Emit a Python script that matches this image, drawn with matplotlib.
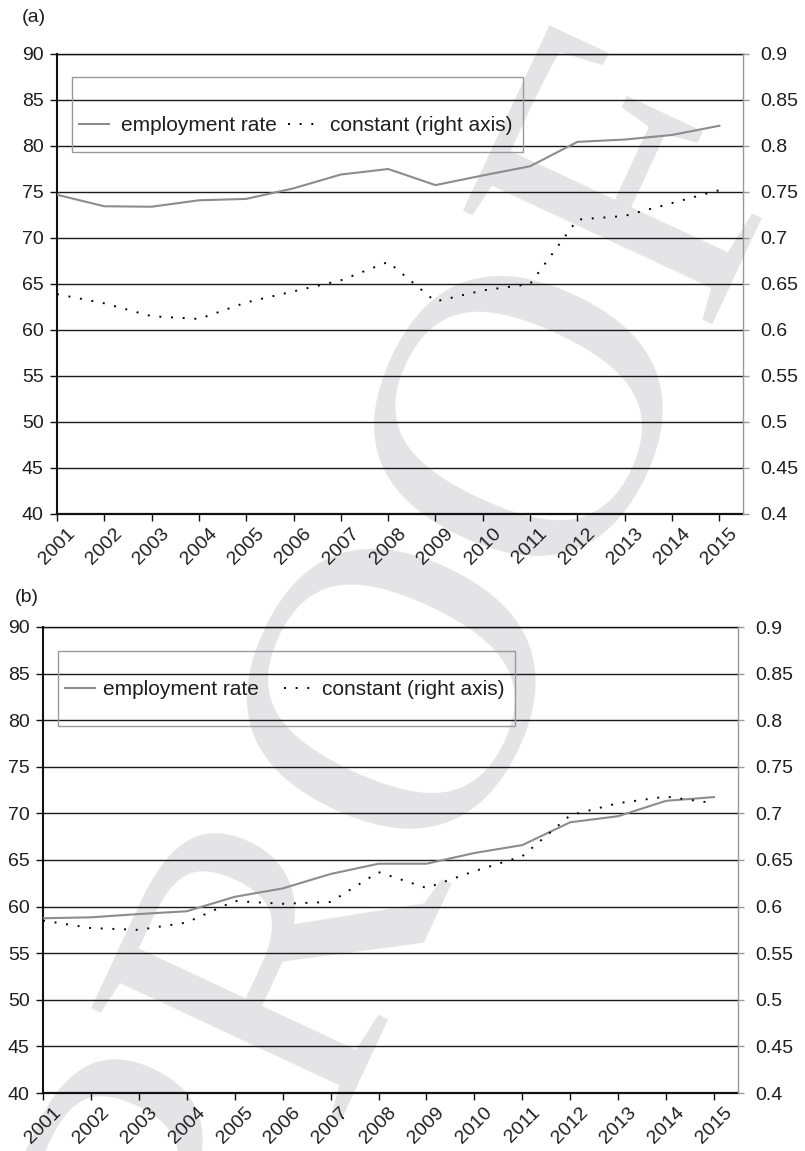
import matplotlib
matplotlib.use('Agg')
import matplotlib.pyplot as plt
import matplotlib.transforms as mtransforms
from matplotlib.patches import Rectangle

plt.rcParams['font.family'] = ['Liberation Sans', 'DejaVu Sans']

# ---------------- data ----------------
years = ['2001', '2002', '2003', '2004', '2005', '2006', '2007', '2008',
         '2009', '2010', '2011', '2012', '2013', '2014', '2015']

emp_a = [74.7, 73.45, 73.4, 74.1, 74.25, 75.4, 76.9, 77.5,
         75.75, 76.8, 77.8, 80.45, 80.7, 81.2, 82.2]
const_a = [0.639, 0.629, 0.615, 0.612, 0.630, 0.642, 0.654, 0.674,
           0.631, 0.643, 0.650, 0.720, 0.724, 0.738, 0.752]

emp_b = [58.75, 58.85, 59.2, 59.5, 61.05, 61.95, 63.5, 64.6,
         64.6, 65.75, 66.6, 69.05, 69.7, 71.35, 71.75]
const_b = [0.585, 0.577, 0.575, 0.583, 0.606, 0.603, 0.605, 0.637,
           0.620, 0.638, 0.654, 0.698, 0.711, 0.718, 0.711]

left_ticks = [40, 45, 50, 55, 60, 65, 70, 75, 80, 85, 90]
right_ticks = [0.4, 0.45, 0.5, 0.55, 0.6, 0.65, 0.7, 0.75, 0.8, 0.85, 0.9]
right_labels = ['0.4', '0.45', '0.5', '0.55', '0.6', '0.65', '0.7',
                '0.75', '0.8', '0.85', '0.9']
series_labels = ['employment rate', 'constant (right axis)']

W, H = 805, 1151
fig = plt.figure(figsize=(W / 100, H / 100), dpi=100)

TXT = '#1e1e1e'
GRAY_LINE = '#8c8c8c'
GRAY_AX = '#9a9a9a'

# watermark
fig.text(0.639, 0.370, 'PROOF', fontsize=300, family='Liberation Serif',
         color='#e4e4e6', rotation=65, rotation_mode='anchor',
         ha='center', va='baseline', zorder=-1)


def panel(rect, emp, const, tag, tag_xy, leg_anchor, htp, colsp):
    ax = fig.add_axes(rect)
    ax.set_facecolor('none')
    ax2 = ax.twinx()
    ax2.set_facecolor('none')
    x = list(range(len(years)))
    l1, = ax.plot(x, emp, color=GRAY_LINE, lw=1.5, zorder=3)
    l2, = ax2.plot(x, const, color='black', lw=1.4, linestyle=(0, (1, 5)))
    ax.set_xlim(0, 14.5)
    ax.set_ylim(40, 90)
    ax2.set_ylim(0.4, 0.9)

    ax.set_yticks(left_ticks)
    ax.set_yticklabels([str(t) for t in left_ticks])
    ax2.set_yticks(right_ticks)
    ax2.set_yticklabels(right_labels)
    ax.set_xticks(x)
    ax.set_xticklabels(years, rotation=45, ha='center', fontsize=14, color=TXT)
    off = mtransforms.ScaledTranslation(-0.06, 0, fig.dpi_scale_trans)
    for lb in ax.get_xticklabels():
        lb.set_transform(lb.get_transform() + off)

    ax.yaxis.grid(True, color='#1a1a1a', lw=1.0)
    ax.xaxis.grid(False)

    for s in ['left', 'bottom', 'top']:
        ax.spines[s].set_color('#111111')
    ax.spines['left'].set_linewidth(1.5)
    ax.spines['bottom'].set_linewidth(1.6)
    ax.spines['top'].set_linewidth(1.0)
    ax.spines['right'].set_visible(False)
    for s in ['left', 'bottom', 'top']:
        ax2.spines[s].set_visible(False)
    ax2.spines['right'].set_color(GRAY_AX)
    ax2.spines['right'].set_linewidth(1.0)

    ax.tick_params(axis='y', direction='out', length=5, width=1, color='#111111',
                   labelsize=14, pad=4.5, labelcolor=TXT)
    ax.tick_params(axis='x', direction='out', length=5, width=1, color='#111111',
                   pad=3)
    ax2.tick_params(axis='y', direction='out', length=4.5, width=1, color=GRAY_AX,
                    labelsize=14, pad=8, labelcolor=TXT)

    ax2.add_patch(Rectangle((0.022, 0.788), 0.657, 0.161, transform=ax2.transAxes,
                            fill=False, edgecolor=GRAY_AX, lw=1.0, zorder=5))
    ax2.legend([l1, l2], series_labels, ncol=2, loc='center left',
               bbox_to_anchor=leg_anchor, frameon=False, fontsize=15,
               handlelength=1.44, handletextpad=htp, columnspacing=colsp,
               borderpad=0, borderaxespad=0, labelcolor=TXT)

    fig.text(tag_xy[0] / W, 1 - tag_xy[1] / H, tag, fontsize=14, color=TXT,
             ha='left', va='center')
    return ax, ax2


panel([57 / W, 1 - 514 / H, 686 / W, 460 / H], emp_a, const_a, '(a)', (22, 17),
      (0.032, 0.845), 0.58, 0.53)
panel([43 / W, 1 - 1093 / H, 695 / W, 466 / H], emp_b, const_b, '(b)', (15, 598),
      (0.0317, 0.865), 0.38, 1.2)

fig.savefig('out.png', dpi=100)
